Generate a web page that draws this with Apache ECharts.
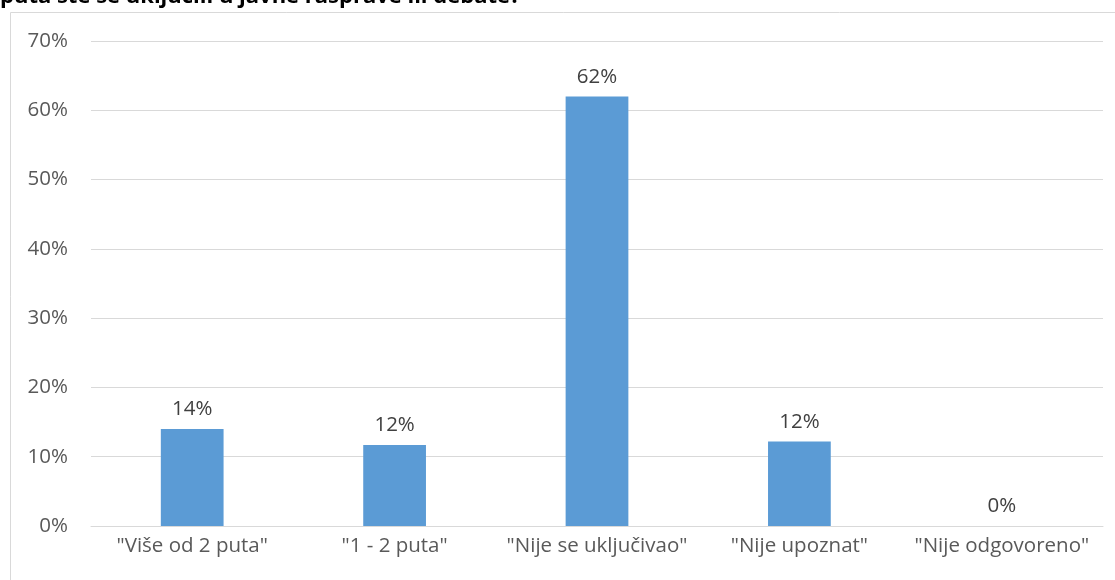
<!DOCTYPE html>
<html><head><meta charset="utf-8">
<script src="https://cdn.jsdelivr.net/npm/echarts@6/dist/echarts.min.js"></script>
<style>html,body{margin:0;padding:0;background:#fff}#c{width:1115px;height:580px}</style>
</head><body><div id="c"></div>
<script>
var categories = ['"Više od 2 puta"', '"1 - 2 puta"', '"Nije se uključivao"', '"Nije upoznat"', '"Nije odgovoreno"'];
var values = [14, 11.7, 62, 12.2, 0];
var dataLabels = ['14%', '12%', '62%', '12%', '0%'];
var yTicks = [0, 10, 20, 30, 40, 50, 60, 70];
var titleText = 'puta ste se uključili u javne rasprave ili debate?';

var FONT = '"Open Sans", sans-serif';
var chart = echarts.init(document.getElementById('c'));
chart.setOption({
  animation: false,
  graphic: [
    {type:'rect', shape:{x:10.5, y:12.5, width:1200, height:700}, style:{fill:'none', stroke:'#d9d9d9', lineWidth:1}, z:-1},
    {type:'text', style:{x:0, y:-3, text:titleText, font:'bold 22px "Open Sans", sans-serif', fill:'#000', verticalAlign:'middle'}}
  ],
  grid: {left:91, right:12, top:41, bottom:54},
  xAxis: {
    type:'category', data:categories,
    axisLine:{lineStyle:{color:'#d9d9d9'}},
    axisTick:{show:false},
    axisLabel:{color:'#595959', fontSize:20.5, fontFamily:FONT, margin:10, interval:0}
  },
  yAxis: {
    type:'value', min:yTicks[0], max:yTicks[yTicks.length-1], interval:10,
    axisLine:{show:false}, axisTick:{show:false},
    splitLine:{lineStyle:{color:'#d9d9d9'}},
    axisLabel:{color:'#595959', fontSize:20.5, fontFamily:FONT, margin:23, formatter:'{value}%'}
  },
  series: [{
    type:'bar', data:values, barWidth:'31%',
    itemStyle:{color:'#5b9bd5'},
    label:{show:true, position:'top', distance:9, color:'#404040', fontSize:20.5, fontFamily:FONT,
      formatter:function(p){return dataLabels[p.dataIndex];}}
  }]
});
</script></body></html>
